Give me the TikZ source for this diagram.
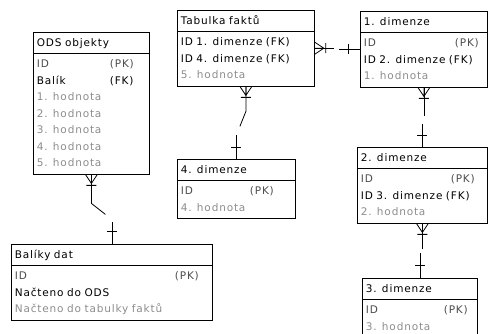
\documentclass[tikz,border=0pt]{standalone}
\usepackage{fontspec}
\newfontfamily\erfont[LetterSpace=8]{DejaVu Sans}
\usepackage{tikz}
\usetikzlibrary{shapes.multipart}
\definecolor{hodnota}{gray}{0.55}
\definecolor{klic}{gray}{0.3}
\newcommand\hod[1]{\strut\textcolor{hodnota}{#1}}
\newcommand\pk[2]{\strut\textcolor{klic}{\makebox[#1][l]{#2}(PK)}}
\newcommand\nohy[2]{\draw[vztah, shift={(#1)}, rotate=#2] (0,-6) -- (9,0) -- (0,6) (0,0) -- (9,0) (11,-5) -- (11,5);}

\begin{document}
\begin{tikzpicture}[x=1pt, y=-1pt,
  entita/.style={draw, line width=0.8pt, rectangle split, rectangle split parts=2,
    anchor=north west, text width=#1, align=left, inner xsep=3.5pt, inner ysep=2pt,
    font=\erfont\fontsize{10.5}{16.5}\selectfont},
  vztah/.style={line width=0.8pt}]
\useasboundingbox (0,0) rectangle (488,334);

\node[entita=109pt] (ods) at (33,32) {\strut ODS objekty
  \nodepart{two}\pk{73pt}{ID}\\
  \strut\makebox[73pt][l]{Balík}(FK)\\
  \hod{1. hodnota}\\ \hod{2. hodnota}\\ \hod{3. hodnota}\\ \hod{4. hodnota}\\ \hod{5. hodnota}};
\node[entita=130pt] (fakt) at (177,10) {\strut Tabulka faktů
  \nodepart{two}\strut ID 1. dimenze (FK)\\
  \strut ID 4. dimenze (FK)\\
  \hod{5. hodnota}};
\node[entita=120pt] (dim1) at (360,11) {\strut 1. dimenze
  \nodepart{two}\pk{91pt}{ID}\\
  \strut ID 2. dimenze (FK)\\
  \hod{1. hodnota}};
\node[entita=111pt] (dim4) at (177,159) {\strut 4. dimenze
  \nodepart{two}\pk{69pt}{ID}\\
  \hod{4. hodnota}};
\node[entita=123pt] (dim2) at (357,147) {\strut 2. dimenze
  \nodepart{two}\pk{90pt}{ID}\\
  \strut ID 3. dimenze (FK)\\
  \hod{2. hodnota}};
\node[entita=108pt] (dim3) at (362,278) {\strut 3. dimenze
  \nodepart{two}\pk{78pt}{ID}\\
  \hod{3. hodnota}};
\node[entita=194pt] (balik) at (11,244) {\strut Balíky dat
  \nodepart{two}\pk{160pt}{ID}\\
  \strut Načteno do ODS\\
  \hod{Načteno do tabulky faktů}};

% vztahy
\nohy{fakt.east}{0}
\draw[vztah] (fakt.east) -- ++(19,0);
\draw[vztah] (dim1.west) -- ++(-21,0) ++(9,-5) -- ++(0,10);

\nohy{fakt.south}{-90}
\draw[vztah] (fakt.south) -- ++(0,25) -- ++(-6,15);
\draw[vztah] (dim4.north) -- ++(0,-24) ++(-5,12) -- ++(10,0);

\nohy{dim1.south}{-90}
\draw[vztah] (dim1.south) -- ++(0,29);
\draw[vztah] (dim2.north) -- ++(0,-23) ++(-5,11) -- ++(10,0);

\nohy{dim2.south}{-90}
\draw[vztah] (dim2.south) -- ++(0,26);
\draw[vztah] (dim3.north) -- ++(0,-25) ++(-5,12) -- ++(10,0);

\nohy{ods.south}{-90}
\draw[vztah] (ods.south) -- ++(0,29) -- ++(14,11);
\draw[vztah] (balik.north) -- ++(0,-22) ++(-5,9) -- ++(10,0);
\end{tikzpicture}
\end{document}
